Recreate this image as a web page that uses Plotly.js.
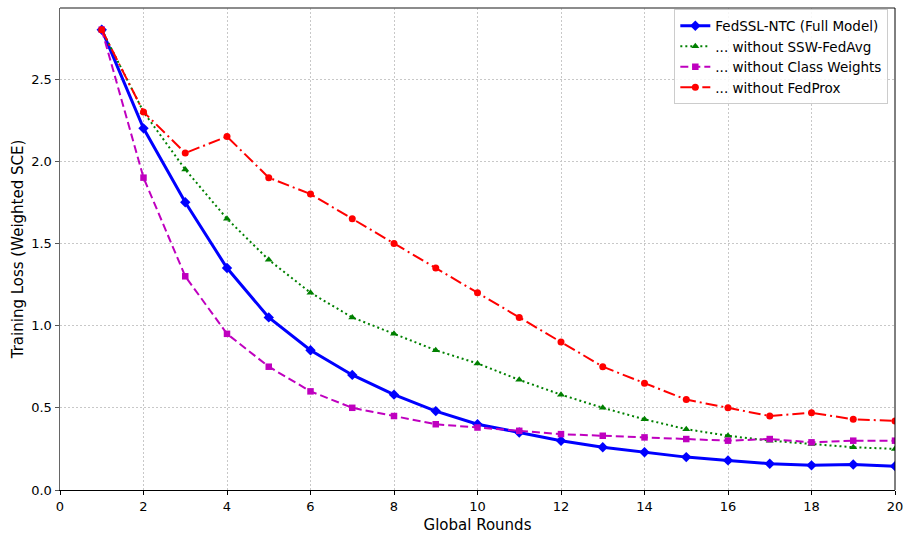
<!DOCTYPE html>
<html>
<head>
<meta charset="utf-8">
<script src="https://cdn.plot.ly/plotly-3.0.1.min.js"></script>
<style>
  html, body { margin: 0; padding: 0; background: #ffffff; }
  #chart { width: 904px; height: 536px; }
</style>
</head>
<body>
<div id="chart"></div>
<script>
// Training loss per global round for the full model and its ablations
const rounds = [1, 2, 3, 4, 5, 6, 7, 8, 9, 10, 11, 12, 13, 14, 15, 16, 17, 18, 19, 20];

const lossFull = [2.80, 2.20, 1.75, 1.35, 1.05, 0.85, 0.70, 0.58, 0.48, 0.40,
                  0.35, 0.30, 0.26, 0.23, 0.20, 0.18, 0.16, 0.15, 0.155, 0.145];
const lossNoSSW = [2.80, 2.30, 1.95, 1.65, 1.40, 1.20, 1.05, 0.95, 0.85, 0.77,
                   0.67, 0.58, 0.50, 0.43, 0.37, 0.33, 0.30, 0.28, 0.26, 0.25];
const lossNoClassW = [2.80, 1.90, 1.30, 0.95, 0.75, 0.60, 0.50, 0.45, 0.40, 0.38,
                      0.36, 0.34, 0.33, 0.32, 0.31, 0.30, 0.31, 0.29, 0.30, 0.30];
const lossNoProx = [2.80, 2.30, 2.05, 2.15, 1.90, 1.80, 1.65, 1.50, 1.35, 1.20,
                    1.05, 0.90, 0.75, 0.65, 0.55, 0.50, 0.45, 0.47, 0.43, 0.42];

const seriesNames = [
  'FedSSL-NTC (Full Model)',
  '... without SSW-FedAvg',
  '... without Class Weights',
  '... without FedProx'
];

const xTicks = [0, 2, 4, 6, 8, 10, 12, 14, 16, 18, 20];
const yTicks = [0.0, 0.5, 1.0, 1.5, 2.0, 2.5];
const yTickText = ['0.0', '0.5', '1.0', '1.5', '2.0', '2.5'];

const FONT = 'DejaVu Sans, sans-serif';
const GRID = '#c8c8c8';

const traces = [
  {
    x: rounds, y: lossFull, name: seriesNames[0], type: 'scatter', mode: 'lines+markers',
    line: { color: '#0000ff', width: 3 },
    marker: { symbol: 'diamond', size: 8, color: '#0000ff' }
  },
  {
    x: rounds, y: lossNoSSW, name: seriesNames[1], type: 'scatter', mode: 'lines+markers',
    line: { color: '#008000', width: 2, dash: '2px,3px' },
    marker: { symbol: 'triangle-up', size: 7, color: '#008000' }
  },
  {
    x: rounds, y: lossNoClassW, name: seriesNames[2], type: 'scatter', mode: 'lines+markers',
    line: { color: '#bf00bf', width: 2, dash: '8px,4px' },
    marker: { symbol: 'square', size: 6.5, color: '#bf00bf' }
  },
  {
    x: rounds, y: lossNoProx, name: seriesNames[3], type: 'scatter', mode: 'lines+markers',
    line: { color: '#ff0000', width: 2, dash: '12px,4px,2px,4px' },
    marker: { symbol: 'circle', size: 7, color: '#ff0000' }
  }
];

const layout = {
  width: 904,
  height: 536,
  margin: { l: 60, r: 9, t: 8, b: 46 },
  paper_bgcolor: '#ffffff',
  plot_bgcolor: '#ffffff',
  font: { family: FONT, size: 13, color: '#000000' },
  showlegend: true,
  legend: {
    x: 0.992, y: 0.997, xanchor: 'right', yanchor: 'top',
    bgcolor: 'rgba(255,255,255,0.85)',
    bordercolor: '#cccccc', borderwidth: 1,
    font: { family: FONT, size: 13.5, color: '#000000' },
    itemwidth: 30,
    tracegroupgap: 0
  },
  xaxis: {
    range: [0, 20],
    tickvals: xTicks,
    ticktext: xTicks.map(String),
    ticks: 'outside', ticklen: 4, tickcolor: '#000000',
    showline: true, linecolor: '#000000', linewidth: 1, mirror: false,
    showgrid: true, gridcolor: GRID, griddash: '1.5px,2.5px', gridwidth: 1,
    zeroline: false,
    tickfont: { family: FONT, size: 13 },
    title: { text: 'Global Rounds', font: { family: FONT, size: 15 }, standoff: 6 }
  },
  yaxis: {
    range: [0, 2.932],
    tickvals: yTicks,
    ticktext: yTickText,
    ticks: 'outside', ticklen: 4, tickcolor: '#555555',
    showline: true, linecolor: '#666666', linewidth: 1.5, mirror: false,
    showgrid: true, gridcolor: GRID, griddash: '1.5px,2.5px', gridwidth: 1,
    zeroline: false,
    tickfont: { family: FONT, size: 13 },
    title: { text: 'Training Loss (Weighted SCE)', font: { family: FONT, size: 15 }, standoff: 4 }
  },
  // top and right frame edges
  shapes: [
    { type: 'line', xref: 'paper', yref: 'paper', x0: 0, x1: 1, y0: 1, y1: 1,
      line: { color: '#666666', width: 1.5 } },
    { type: 'line', xref: 'paper', yref: 'paper', x0: 1, x1: 1, y0: 0, y1: 1,
      line: { color: '#000000', width: 1 } }
  ]
};

Plotly.newPlot('chart', traces, layout, { displayModeBar: false, staticPlot: true });
</script>
</body>
</html>
